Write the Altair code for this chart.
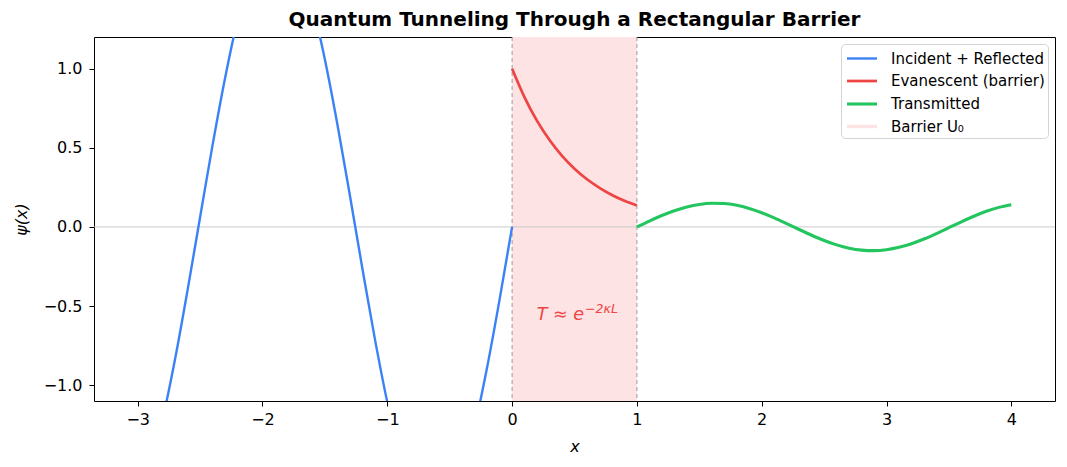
import altair as alt
import pandas as pd

# ---- data ----
inc_x = [-3.0, -2.9, -2.8, -2.7, -2.6, -2.5, -2.4, -2.3, -2.2, -2.1, -2.0, -1.9, -1.8, -1.7, -1.6,
         -1.5, -1.4, -1.3, -1.2, -1.1, -1.0, -0.9, -0.8, -0.7, -0.6, -0.5, -0.4, -0.3, -0.2, -0.1, 0.0]
inc_y = [-1.735, -1.523, -1.215, -0.833, -0.398, 0.061, 0.517, 0.940, 1.306, 1.589, 1.774, 1.849,
         1.809, 1.656, 1.400, 1.058, 0.649, 0.200, -0.261, -0.706, -1.107, -1.439, -1.682, -1.820,
         -1.845, -1.756, -1.557, -1.261, -0.887, -0.458, 0.0]

eva_x = [0.0, 0.1, 0.2, 0.3, 0.4, 0.5, 0.6, 0.7, 0.8, 0.9, 1.0]
eva_y = [1.0, 0.819, 0.670, 0.549, 0.449, 0.368, 0.301, 0.247, 0.202, 0.165, 0.135]

tra_x = [1.0, 1.1, 1.2, 1.3, 1.4, 1.5, 1.6, 1.7, 1.8, 1.9, 2.0, 2.1, 2.2, 2.3, 2.4, 2.5, 2.6, 2.7,
         2.8, 2.9, 3.0, 3.1, 3.2, 3.3, 3.4, 3.5, 3.6, 3.7, 3.8, 3.9, 4.0]
tra_y = [0.0, 0.0371, 0.0719, 0.1023, 0.1262, 0.1423, 0.1496, 0.1476, 0.1364, 0.1167, 0.0898,
         0.0573, 0.0212, -0.0163, -0.0526, -0.0858, -0.1135, -0.1343, -0.1466, -0.1499, -0.1438,
         -0.1289, -0.1059, -0.0762, -0.0419, -0.0050, 0.0323, 0.0675, 0.0986, 0.1235, 0.1407]

series_names = ["Incident + Reflected", "Evanescent (barrier)", "Transmitted", "Barrier U₀"]
series_colors = ["#3b82f6", "#ef4444", "#22c55e", "#fde3e3"]
series_widths = [2.4, 3.4, 2.4, 11.0]

barrier_x = [0.0]
barrier_x2 = [1.0]
edge_x = [0.0, 1.0]
x_ticks = [-3, -2, -1, 0, 1, 2, 3, 4]
y_ticks = [-1.0, -0.5, 0.0, 0.5, 1.0]

# ---- tables ----
lines = pd.concat([
    pd.DataFrame({"x": inc_x, "y": inc_y, "series": series_names[0]}),
    pd.DataFrame({"x": eva_x, "y": eva_y, "series": series_names[1]}),
    pd.DataFrame({"x": tra_x, "y": tra_y, "series": series_names[2]}),
], ignore_index=True)
barrier = pd.DataFrame({"x": barrier_x, "x2": barrier_x2, "series": [series_names[3]]})
edges = pd.DataFrame({"x": edge_x})
note = pd.DataFrame({"x": [0.577], "y": [-0.587]})

xs = alt.Scale(domain=[-3.35, 4.35], nice=False, zero=False)
ys = alt.Scale(domain=[-1.1, 1.2], nice=False, zero=False)
cscale = alt.Scale(domain=series_names, range=series_colors)
wscale = alt.Scale(domain=series_names, range=series_widths)

legend = alt.Legend(
    title=None, orient="top-right", offset=7, symbolType="M-1.5,0H1.5", symbolSize=400,
    symbolOffset=6, labelOffset=17, rowPadding=2.5, padding=3, labelFont="DejaVu Sans",
    labelFontSize=15, labelColor="black", fillColor="white", strokeColor="#d4d4d4",
    cornerRadius=4, symbolOpacity=1,
)

band = alt.Chart(barrier).mark_rect().encode(
    x=alt.X("x:Q", scale=xs, title="x",
            axis=alt.Axis(values=x_ticks, format="d", labelPadding=5)),
    x2="x2:Q",
    color=alt.Color("series:N", scale=cscale, legend=legend),
)

zero = alt.Chart(barrier).mark_rule(color="#c4c4c4", strokeWidth=0.9).encode(
    y=alt.datum(0.0, scale=ys),
)

vlines = alt.Chart(edges).mark_rule(color="#8a8a8a", opacity=0.7, strokeDash=[4, 3],
                                    strokeWidth=1.2).encode(x=alt.X("x:Q", scale=xs))

curves = alt.Chart(lines).mark_line(clip=True, interpolate="monotone").encode(
    x=alt.X("x:Q", scale=xs),
    y=alt.Y("y:Q", scale=ys, title="ψ(x)",
            axis=alt.Axis(values=y_ticks, format=".1f", labelPadding=7)),
    color=alt.Color("series:N", scale=cscale, legend=legend),
    strokeWidth=alt.StrokeWidth("series:N", scale=wscale, legend=legend),
    detail="series:N",
)

t_main = alt.Chart(note).mark_text(
    text="T ≈ e", align="right", baseline="alphabetic", font="DejaVu Sans",
    fontStyle="italic", fontSize=17.5, color="#ef4444",
).encode(x=alt.X("x:Q", scale=xs), y=alt.Y("y:Q", scale=ys))

t_sup = alt.Chart(note).mark_text(
    text="−2κL", align="left", baseline="alphabetic", font="DejaVu Sans",
    fontStyle="italic", fontSize=12.5, color="#ef4444", dx=1, dy=-7,
).encode(x=alt.X("x:Q", scale=xs), y=alt.Y("y:Q", scale=ys))

chart = alt.layer(band, zero, vlines, curves, t_main, t_sup).properties(
    width=961, height=364,
    title=alt.TitleParams("Quantum Tunneling Through a Rectangular Barrier",
                          font="DejaVu Sans", fontSize=20, fontWeight="bold",
                          color="black", offset=6, anchor="middle"),
    autosize=alt.AutoSizeParams(type="none"),
    padding={"left": 86, "top": 29, "right": 4, "bottom": 58},
).configure_view(
    stroke="black", strokeWidth=1,
).configure_axis(
    grid=False, domain=False, ticks=True, tickColor="black", tickSize=5, tickWidth=1,
    labelFont="DejaVu Sans", labelFontSize=16, labelColor="black",
    titleFont="DejaVu Sans", titleFontSize=16, titleFontStyle="italic",
    titleFontWeight="normal", titleColor="black",
).configure_axisX(titlePadding=11).configure_axisY(titlePadding=14)

chart.save("out.html", embed_options={"renderer": "svg", "actions": False})
